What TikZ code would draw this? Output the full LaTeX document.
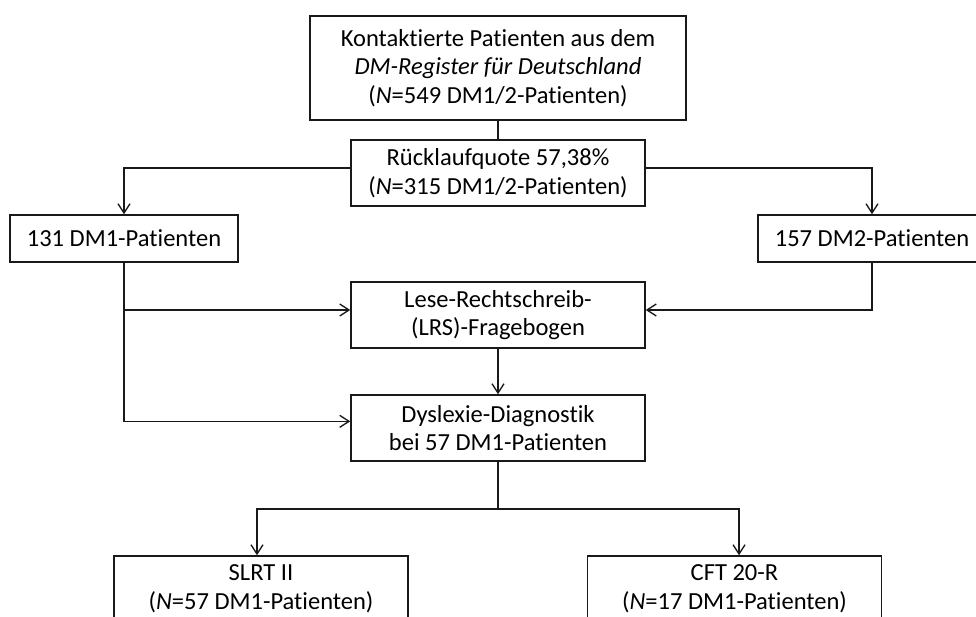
\documentclass[tikz,border=0pt]{standalone}
\usepackage{fontspec}
\setmainfont{Carlito}[Ligatures=NoCommon]
\usetikzlibrary{arrows.meta}
\begin{document}
\begin{tikzpicture}[x=0.75pt,y=-0.75pt,
  box/.style={draw=black!90, line width=1.1pt, fill=white, inner sep=0pt, align=center,
    font=\fontsize{18.4pt}{21.5pt}\selectfont},
  wide/.style={box, minimum width=220.5pt, minimum height=49.5pt},
  small/.style={box, minimum width=171pt, minimum height=35.25pt},
  conn/.style={draw=black!90, line width=1pt},
  arr/.style={conn, -{Straight Barb[length=7pt,width=9pt,line width=1pt]}}]
\clip (0,0) rectangle (976,617);
\fill[white] (0,0) rectangle (976,617);
\node[box, minimum width=282pt, minimum height=78pt] (top) at (498,68)
  {Kontaktierte Patienten aus dem\\ \textit{DM-Register für Deutschland}\\ (\textit{N}=549 DM1/2-Patienten)};
\node[wide] (rueck) at (498,173) {Rücklaufquote 57,38\%\\ (\textit{N}=315 DM1/2-Patienten)};
\node[small] (dm1) at (124,238.5) {131 DM1-Patienten};
\node[small] (dm2) at (872,238.5) {157 DM2-Patienten};
\node[wide] (lrs) at (498,315) {Lese-Rechtschreib-\\ (LRS)-Fragebogen};
\node[wide] (dys) at (498,428) {Dyslexie-Diagnostik\\ bei 57 DM1-Patienten};
\node[wide] (slrt) at (261,589) {SLRT II\\ (\textit{N}=57 DM1-Patienten)};
\node[wide] (cft) at (734.5,589) {CFT 20-R\\ (\textit{N}=17 DM1-Patienten)};
\coordinate (s1) at (498,168);
\coordinate (s2) at (498,509);
\draw[conn] (top.south) -- (rueck.north);
\draw[arr] (rueck.west |- s1) -| (dm1.north);
\draw[arr] (rueck.east |- s1) -| (dm2.north);
\draw[arr] (dm1.south) |- ([yshift=5pt]dys.west);
\draw[arr] (dm1.south |- lrs.west) ++(0,-5) -- ([yshift=3.75pt]lrs.west);
\draw[arr] (dm2.south) |- ([yshift=3.75pt]lrs.east);
\draw[arr] (lrs.south) -- (dys.north);
\draw[conn] (dys.south) -- (s2);
\draw[arr] (s2) -| ([xshift=-3pt]slrt.north);
\draw[arr] (s2) -| ([xshift=3.4pt]cft.north);
\end{tikzpicture}
\end{document}
